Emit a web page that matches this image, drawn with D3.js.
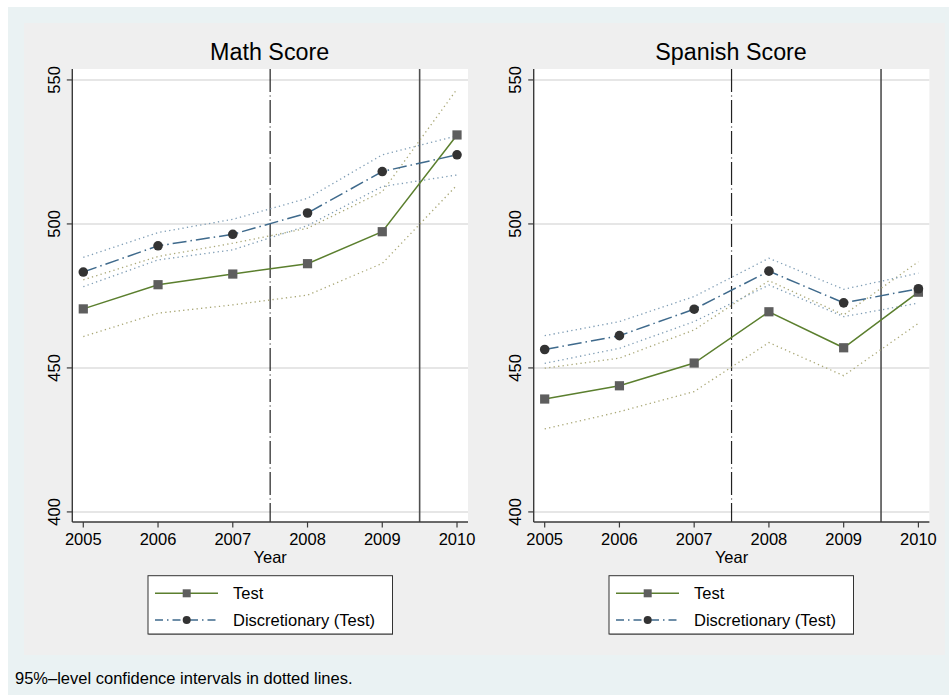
<!DOCTYPE html>
<html>
<head>
<meta charset="utf-8">
<script src="https://cdn.jsdelivr.net/npm/d3@7"></script>
<style>
  html, body { margin: 0; padding: 0; background: #ffffff; }
  svg { display: block; }
  text { font-family: "Liberation Sans", Arial, Helvetica, sans-serif; fill: #000; }
</style>
</head>
<body>
<svg id="chart" width="949" height="695"></svg>
<script>
// Survey years and tick values
const years = [2005, 2006, 2007, 2008, 2009, 2010];
const yTicks = [400, 450, 500, 550];

// Math score: test schools and discretionary admission, with 95% bounds
const mathTest   = [470.5, 478.9, 482.6, 486.2, 497.3, 530.9];
const mathTestLo = [460.9, 469.0, 471.9, 475.3, 486.3, 513.5];
const mathTestHi = [480.6, 488.7, 493.3, 498.5, 511.2, 546.8];
const mathDisc   = [483.3, 492.4, 496.4, 503.8, 518.2, 524.0];
const mathDiscLo = [478.2, 487.5, 491.0, 499.4, 513.0, 517.0];
const mathDiscHi = [488.4, 497.0, 501.6, 508.9, 524.0, 530.6];

// Spanish score
const spanTest   = [439.2, 443.8, 451.7, 469.5, 457.0, 476.3];
const spanTestLo = [428.8, 434.8, 441.8, 458.8, 447.3, 465.5];
const spanTestHi = [449.9, 453.4, 463.2, 480.3, 468.4, 486.9];
const spanDisc   = [456.4, 461.2, 470.4, 483.6, 472.6, 477.5];
const spanDiscLo = [451.6, 456.8, 466.1, 478.8, 467.8, 472.5];
const spanDiscHi = [461.2, 466.1, 474.8, 488.1, 477.3, 482.9];

// Policy reference years (vertical markers)
const refDashed = 2007.5;
const refSolid = 2009.5;

const seriesNames = ["Test", "Discretionary (Test)"];
const panelTitles = ["Math Score", "Spanish Score"];
const xTitle = "Year";
const note = "95%\u2013level confidence intervals in dotted lines.";

const panels = [
  { title: panelTitles[0], test: mathTest, testLo: mathTestLo, testHi: mathTestHi,
    disc: mathDisc, discLo: mathDiscLo, discHi: mathDiscHi },
  { title: panelTitles[1], test: spanTest, testLo: spanTestLo, testHi: spanTestHi,
    disc: spanDisc, discLo: spanDiscLo, discHi: spanDiscHi }
];

const C = {
  outer: "#eaf2f3",
  region: "#efefef",
  grid: "#e6e6e6",
  axis: "#3a3a3a",
  test: "#5b7f2e",
  testCI: "#aaa877",
  disc: "#3f6a8c",
  discCI: "#7f9db5",
  square: "#5e5e5e",
  circle: "#333333"
};

const svg = d3.select("#chart");

// Background regions
svg.append("rect").attr("x", 8).attr("y", 7).attr("width", 941).attr("height", 688).attr("fill", C.outer);
svg.append("rect").attr("x", 24).attr("y", 23).attr("width", 921).attr("height", 632).attr("fill", C.region);

const plotTop = 69, plotBottom = 522;
const y = d3.scaleLinear().domain([396.5, 553.8]).range([plotBottom, plotTop]);
const panelLeft = [72.3, 533.7];
const plotW = 395.7;

panels.forEach((p, i) => {
  const x0 = panelLeft[i];
  const x = d3.scaleLinear().domain([2004.853, 2010.147]).range([x0, x0 + plotW]);
  const g = svg.append("g");

  // Plot area
  g.append("rect").attr("x", x0).attr("y", plotTop).attr("width", plotW)
    .attr("height", plotBottom - plotTop).attr("fill", "#ffffff");

  // Horizontal gridlines
  g.selectAll(".grid").data(yTicks).join("line")
    .attr("x1", x0).attr("x2", x0 + plotW)
    .attr("y1", d => y(d)).attr("y2", d => y(d))
    .attr("stroke", C.grid).attr("stroke-width", 2);

  // Reference lines
  g.append("line").attr("x1", x(refDashed)).attr("x2", x(refDashed))
    .attr("y1", plotTop).attr("y2", plotBottom)
    .attr("stroke", "#222").attr("stroke-width", 1.2)
    .attr("stroke-dasharray", "23,3.5,1,3.5");
  g.append("line").attr("x1", x(refSolid)).attr("x2", x(refSolid))
    .attr("y1", plotTop).attr("y2", plotBottom)
    .attr("stroke", "#505050").attr("stroke-width", 1.6);

  const line = d3.line().x((d, k) => x(years[k])).y(d => y(d));

  // Confidence bounds (dotted)
  [[p.testHi, C.testCI], [p.testLo, C.testCI], [p.discHi, C.discCI], [p.discLo, C.discCI]]
    .forEach(([arr, col]) => {
      g.append("path").datum(arr).attr("d", line).attr("fill", "none")
        .attr("stroke", col).attr("stroke-width", 1.3)
        .attr("stroke-dasharray", "1.3,3.2");
    });

  // Point estimates
  g.append("path").datum(p.test).attr("d", line).attr("fill", "none")
    .attr("stroke", C.test).attr("stroke-width", 1.5);
  g.append("path").datum(p.disc).attr("d", line).attr("fill", "none")
    .attr("stroke", C.disc).attr("stroke-width", 1.5)
    .attr("stroke-dasharray", "14,4,1.5,4");

  g.selectAll(".sq").data(p.test).join("rect")
    .attr("x", (d, k) => x(years[k]) - 4.6).attr("y", d => y(d) - 4.6)
    .attr("width", 9.2).attr("height", 9.2).attr("fill", C.square);
  g.selectAll(".ci").data(p.disc).join("circle")
    .attr("cx", (d, k) => x(years[k])).attr("cy", d => y(d))
    .attr("r", 4.8).attr("fill", C.circle);

  // Y axis
  g.append("line").attr("x1", x0).attr("x2", x0).attr("y1", plotTop).attr("y2", plotBottom)
    .attr("stroke", C.axis).attr("stroke-width", 1.4);
  g.selectAll(".yt").data(yTicks).join("line")
    .attr("x1", x0 - 5.5).attr("x2", x0).attr("y1", d => y(d)).attr("y2", d => y(d))
    .attr("stroke", C.axis).attr("stroke-width", 1.2);
  g.selectAll(".yl").data(yTicks).join("text")
    .attr("transform", d => `translate(${x0 - 12.5},${y(d)}) rotate(-90)`)
    .attr("text-anchor", "middle").attr("font-size", 16.5).text(d => d);

  // X axis
  g.append("line").attr("x1", x0).attr("x2", x0 + plotW).attr("y1", plotBottom).attr("y2", plotBottom)
    .attr("stroke", C.axis).attr("stroke-width", 1.4);
  g.selectAll(".xt").data(years).join("line")
    .attr("x1", d => x(d)).attr("x2", d => x(d)).attr("y1", plotBottom).attr("y2", plotBottom + 5.5)
    .attr("stroke", C.axis).attr("stroke-width", 1.2);
  g.selectAll(".xl").data(years).join("text")
    .attr("x", d => x(d)).attr("y", 545).attr("text-anchor", "middle")
    .attr("font-size", 16.5).text(d => d);
  g.append("text").attr("x", x0 + plotW / 2).attr("y", 563.3).attr("text-anchor", "middle")
    .attr("font-size", 16.5).text(xTitle);

  // Title
  g.append("text").attr("x", x0 + plotW / 2 - 0.5).attr("y", 60).attr("text-anchor", "middle")
    .attr("font-size", 23.3).text(p.title);

  // Legend
  const lx = 148 + i * 461, ly = 575.7, lw = 244.5, lh = 58.3;
  const lg = g.append("g");
  lg.append("rect").attr("x", lx + 0.5).attr("y", ly + 1).attr("width", lw).attr("height", lh)
    .attr("fill", "#9a9a9a");
  lg.append("rect").attr("x", lx).attr("y", ly).attr("width", lw).attr("height", lh)
    .attr("fill", "#ffffff").attr("stroke", "#333").attr("stroke-width", 1);
  const rows = [
    { name: seriesNames[0], col: C.test, dash: null, mark: "sq", yy: 593.3 },
    { name: seriesNames[1], col: C.disc, dash: "8,4,1.5,4", mark: "ci", yy: 620 }
  ];
  rows.forEach(r => {
    const s = lg.append("line").attr("x1", lx + 7).attr("x2", lx + 70)
      .attr("y1", r.yy).attr("y2", r.yy).attr("stroke", r.col).attr("stroke-width", 1.5);
    if (r.dash) s.attr("stroke-dasharray", r.dash).attr("stroke-dashoffset", 0);
    if (r.mark === "sq") {
      lg.append("rect").attr("x", lx + 38.7 - 4).attr("y", r.yy - 4).attr("width", 8).attr("height", 8)
        .attr("fill", C.square);
    } else {
      lg.append("circle").attr("cx", lx + 38.7).attr("cy", r.yy).attr("r", 4).attr("fill", C.circle);
    }
    lg.append("text").attr("x", lx + 85).attr("y", r.yy + 6).attr("font-size", 16.5).text(r.name);
  });
});

// Footnote
svg.append("text").attr("x", 15).attr("y", 684).attr("font-size", 16.5).text(note);
</script>
</body>
</html>
